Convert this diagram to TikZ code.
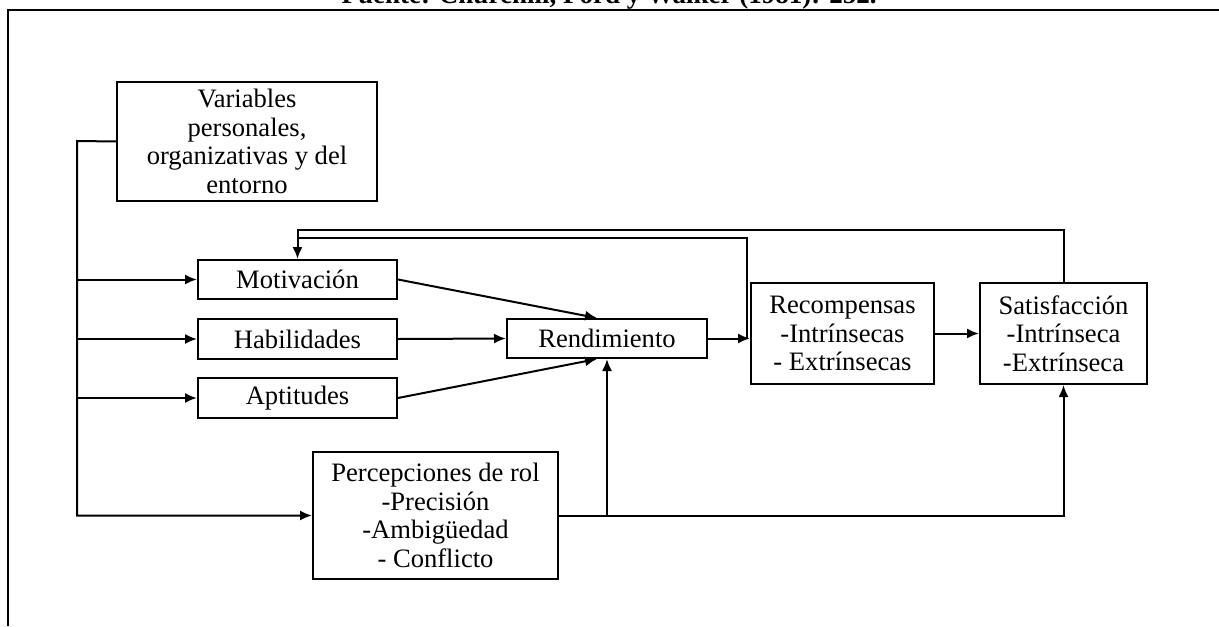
\documentclass[tikz,border=0pt]{standalone}
\usepackage{fontspec}
\setmainfont{Liberation Serif}
\usepackage{tikz}
\usetikzlibrary{calc}
\usetikzlibrary{arrows.meta}

\tikzset{
	caja/.style={draw,line width=1pt,align=center,inner sep=0pt,font=\fontsize{13.3}{14.3}\selectfont},
	flecha/.style={->,>={Latex[length=6pt,width=5pt]},line width=1pt},
	linea/.style={line width=1pt}
}

\begin{document}
\begin{tikzpicture}[x=0.5pt,y=-0.5pt]
	\useasboundingbox (0,0) rectangle (1219,626);
	\clip (0,0) rectangle (1219,626);
	
	\node [font=\bfseries\fontsize{13.5}{15}\selectfont,anchor=base,inner sep=0pt] (fuente) at (609,4) {Fuente: Churchill, Ford y Walker (1981): 252.};
	\draw [line width=1.4pt] (8,626) -- (8,10) -- (1219,10);
	
	\node [caja,minimum width=130pt,minimum height=59.5pt] (vars) at (247,141.5) {Variables\\personales,\\organizativas y del\\entorno};
	\node [caja,minimum width=99.5pt,minimum height=19.5pt] (motiv) at (297.5,279.5) {Motivación};
	\node [caja,minimum width=99.5pt,minimum height=20pt] (habil) at (297.5,339) {Habilidades};
	\node [caja,minimum width=99.5pt,minimum height=20pt] (aptit) at (297.5,398) {Aptitudes};
	\node [caja,minimum width=100pt,minimum height=19.5pt] (rend) at (607,338.5) {Rendimiento};
	\node [caja,minimum width=91.5pt,minimum height=50.5pt] (recomp) at (842.5,333.5) {Recompensas\\-Intrínsecas\\- Extrínsecas};
	\node [caja,minimum width=83.5pt,minimum height=50.5pt] (satisf) at (1063.5,333.5) {Satisfacción\\-Intrínseca\\-Extrínseca};
	\node [caja,minimum width=122.5pt,minimum height=63.5pt] (percep) at (435.5,515.5) {Percepciones de rol\\-Precisión\\-Ambigüedad\\- Conflicto};
	
	\coordinate (tronco) at (77,141);
	\coordinate (fbext) at (0,230);
	\coordinate (fbint) at (747,238);
	
	% tronco de variables
	\draw [flecha] (vars.west) -- (tronco) |- (percep.west);
	\foreach \caj in {motiv,habil,aptit}
		\draw [flecha] (tronco |- \caj.west) -- (\caj.west);
	
	% hacia rendimiento
	\draw [flecha] (motiv.east) -- ($(rend.north)+(-10,0)$);
	\draw [flecha] (habil.east) -- (rend.west);
	\draw [flecha] (aptit.east) -- ($(rend.south)+(-10,0)$);
	\draw [flecha] (percep.east -| rend.south) -- (rend.south);
	\draw [flecha] (percep.east) -| (satisf.south);
	
	\draw [flecha] (rend.east) -- (rend.east -| recomp.west);
	\draw [flecha] (recomp.east) -- (satisf.west);
	
	% realimentacion
	\draw [flecha] (satisf.north) |- (fbext -| motiv.north) -- (motiv.north);
	\draw [linea] (rend.east -| fbint) -- (fbint) -- (fbint -| motiv.north);
\end{tikzpicture}
\end{document}
